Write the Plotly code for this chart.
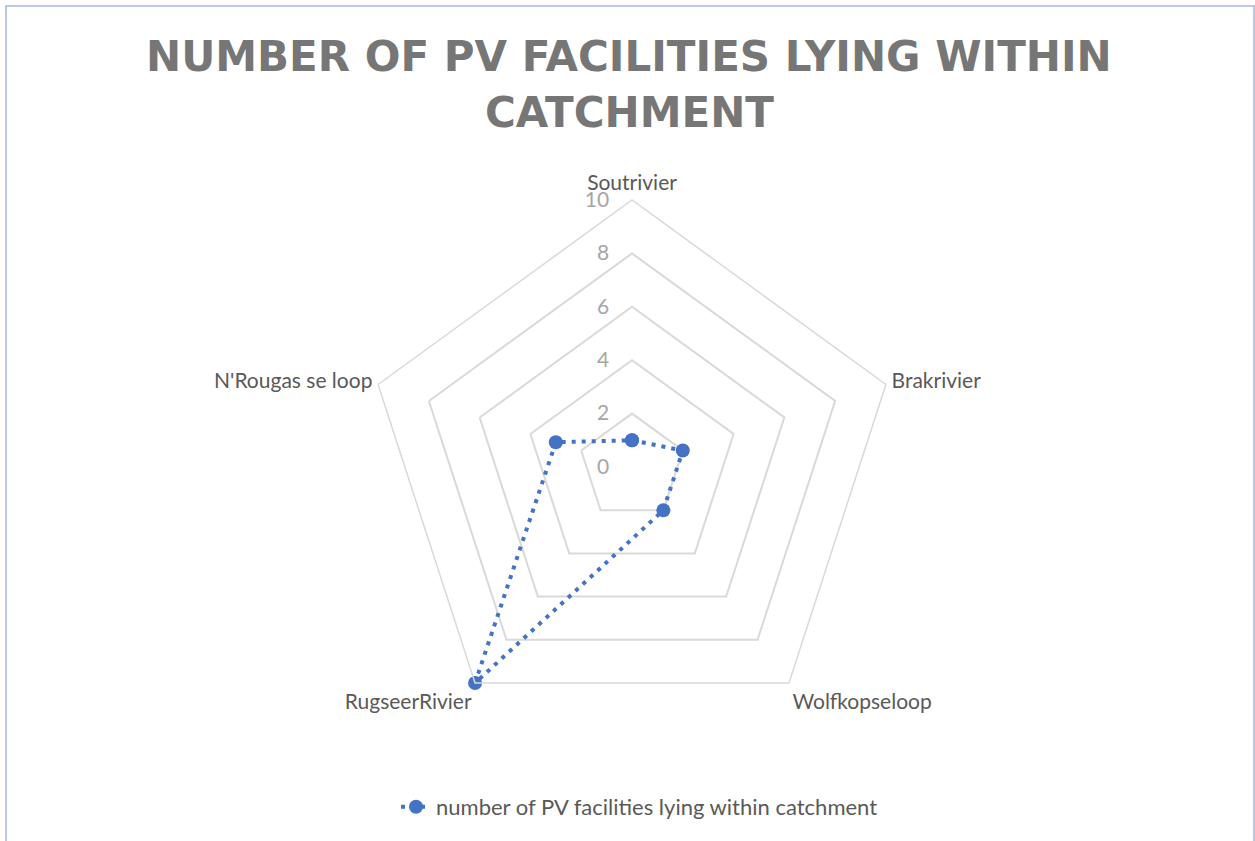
import plotly.graph_objects as go

# Catchments around the radar, clockwise from the top
categories = ["Soutrivier", "Brakrivier", "Wolfkopseloop", "RugseerRivier", "N'Rougas se loop"]
pv_counts = [1, 2, 2, 10, 3]
radial_ticks = [0, 2, 4, 6, 8, 10]
series_name = "number of PV facilities lying within catchment"
title_lines = ["NUMBER OF PV FACILITIES LYING WITHIN", "CATCHMENT"]

W, H = 1255, 841
cx, cy, R = 632, 467, 267  # polar centre and outer radius in pixels

# close the polygon by repeating the first point
theta = categories + categories[:1]
r = pv_counts + pv_counts[:1]

fig = go.Figure()
fig.add_trace(go.Scatterpolar(
    r=r, theta=theta, mode="lines+markers", name=series_name,
    line=dict(color="#4472C4", width=4, dash="4px,6px"),
    marker=dict(color="#4472C4", size=14),
    showlegend=True,
))

font_family = "Lato, 'Open Sans', sans-serif"
title_font = dict(family="'DejaVu Sans', sans-serif", size=42, color="#767676", weight="bold")

annotations = [
    dict(text=line, xref="paper", yref="paper", x=629 / W, y=1 - yc / H,
         xanchor="center", yanchor="middle", showarrow=False, font=title_font)
    for line, yc in zip(title_lines, [57, 113])
]

fig.update_layout(
    width=W, height=H,
    margin=dict(l=0, r=0, t=0, b=0),
    paper_bgcolor="white",
    font=dict(family=font_family, color="#595959", size=21),
    annotations=annotations,
    polar=dict(
        domain=dict(x=[(cx - R) / W, (cx + R) / W], y=[(H - cy - R) / H, (H - cy + R) / H]),
        gridshape="linear",
        bgcolor="white",
        radialaxis=dict(
            range=[0, 10], tickvals=radial_ticks, angle=90, tickangle=90,
            side="counterclockwise", showline=False,
            ticks="outside", ticklen=15, tickcolor="rgba(0,0,0,0)",
            gridcolor="#D9D9D9", gridwidth=1.5,
            tickfont=dict(color="#A6A6A6", size=21),
        ),
        angularaxis=dict(
            direction="clockwise", rotation=90, categoryorder="array",
            categoryarray=categories, showgrid=False,
            ticks="outside", ticklen=1, tickcolor="rgba(0,0,0,0)",
            linecolor="#D9D9D9", linewidth=1.5,
            tickfont=dict(color="#595959", size=21),
        ),
    ),
    legend=dict(
        orientation="h", x=0.5 + 12 / W, xanchor="center", y=1 - 807 / H, yanchor="middle",
        font=dict(color="#595959", size=22),
    ),
    shapes=[dict(
        type="rect", xref="paper", yref="paper",
        x0=6 / W, x1=1254 / W, y0=-0.05, y1=1 - 6 / H,
        line=dict(color="#A4B8E0", width=1.5), layer="below",
    )],
)

fig.write_html("out.html")
